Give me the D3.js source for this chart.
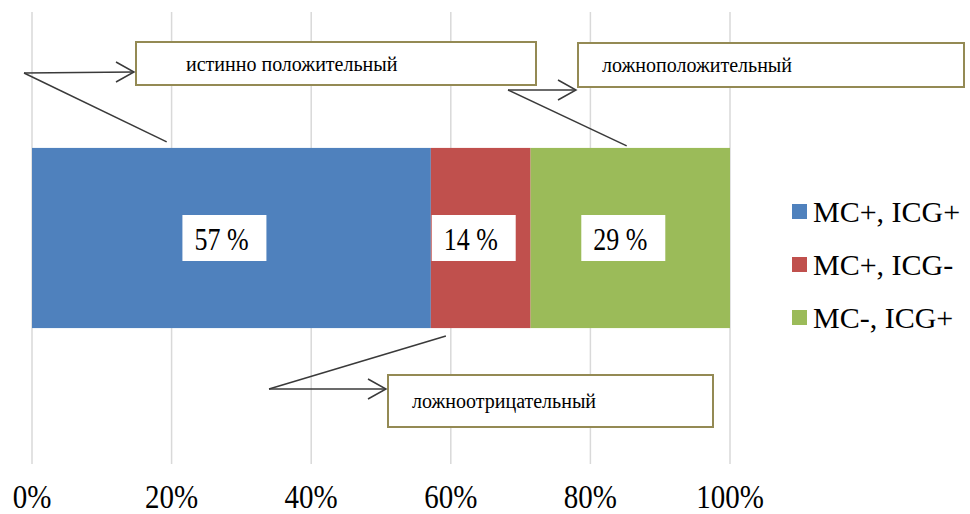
<!DOCTYPE html>
<html>
<head>
<meta charset="utf-8">
<script src="https://cdn.jsdelivr.net/npm/d3@7"></script>
<style>
  body { margin: 0; background: #fff; }
</style>
</head>
<body>
<div id="chart"></div>
<script>
// data
const categories = ['all'];
const seriesNames = ['MC+, ICG+', 'MC+, ICG-', 'MC-, ICG+'];
const seriesValues = [57.14, 14.29, 28.57];
const valueLabels = ['57 %', '14 %', '29 %'];
const seriesColors = ['#4f81bd', '#c0504d', '#9bbb59'];
const tickValues = [0, 20, 40, 60, 80, 100];
const notes = ['истинно положительный', 'ложноположительный', 'ложноотрицательный'];

const width = 970;
const height = 514;
const serif = "'Liberation Serif', 'Times New Roman', Times, serif";

const svg = d3.select('#chart').append('svg')
  .attr('width', width)
  .attr('height', height)
  .attr('font-family', serif);

const x = d3.scaleLinear().domain([0, 100]).range([32, 730]);
const y = d3.scaleBand().domain(categories).range([12, 464]).padding(0.43);

// grid lines
svg.append('g')
  .selectAll('line')
  .data(tickValues)
  .enter().append('line')
    .attr('x1', d => x(d)).attr('x2', d => x(d))
    .attr('y1', 12).attr('y2', 464)
    .style('stroke', '#d9d9d9')
    .style('stroke-width', 1.5);

// tick labels (tall narrow like the original)
svg.append('g')
  .selectAll('text')
  .data(tickValues)
  .enter().append('text')
    .attr('transform', d => `translate(${x(d)},508) scale(1,1.15)`)
    .attr('text-anchor', 'middle')
    .style('font-size', '29px')
    .text(d => d + '%');

// stacked segments
let acc = 0;
const segs = seriesValues.map((v, i) => {
  const s = { name: seriesNames[i], start: acc, end: acc + v, label: valueLabels[i], color: seriesColors[i] };
  acc += v;
  return s;
});

const bars = svg.append('g');
bars.selectAll('rect')
  .data(segs)
  .enter().append('rect')
    .attr('x', d => x(d.start))
    .attr('width', d => x(d.end) - x(d.start))
    .attr('y', y('all'))
    .attr('height', y.bandwidth())
    .attr('fill', d => d.color);

// value label boxes
const cy = y('all') + y.bandwidth() / 2;
const lbl = bars.selectAll('.lbl')
  .data(segs)
  .enter().append('g')
    .attr('class', 'lbl')
    .attr('transform', d => `translate(${(x(d.start) + x(d.end)) / 2 - 7},${cy})`);
lbl.append('rect')
  .attr('x', -42).attr('y', -23)
  .attr('width', 84).attr('height', 46)
  .attr('fill', '#fff');
lbl.append('text')
  .attr('transform', 'translate(-30,12) scale(1,1.18)')
  .style('font-size', '26px')
  .text(d => d.label);

// legend
const legend = svg.append('g')
  .selectAll('g')
  .data(segs)
  .enter().append('g')
    .attr('transform', (d, i) => `translate(792,${212 + i * 53})`);
legend.append('rect')
  .attr('x', 0).attr('y', -8)
  .attr('width', 15).attr('height', 15)
  .attr('fill', d => d.color);
legend.append('text')
  .attr('x', 21).attr('y', 10)
  .style('font-size', '30px')
  .text(d => d.name);

// callouts
const callouts = [
  { text: notes[0], box: [136, 42, 400, 43], apex: [24, 73], tipY: 72, target: [x(19.3), y('all') - 6] },
  { text: notes[1], box: [578, 43, 386, 44], apex: [508, 90], tipY: 90, target: [x(85.2), y('all') - 2] },
  { text: notes[2], box: [388, 375, 325, 52], apex: [269, 389], tipY: 389, target: [x(59.3), y('all') + y.bandwidth() + 8] }
];

const ann = svg.append('g');
callouts.forEach(c => {
  const [bx, by, bw, bh] = c.box;
  ann.append('rect')
    .attr('x', bx).attr('y', by)
    .attr('width', bw).attr('height', bh)
    .attr('fill', '#fff')
    .attr('stroke', '#948a54')
    .attr('stroke-width', 2);
  ann.append('text')
    .attr('x', bx + (c === callouts[0] ? 50 : 24))
    .attr('y', by + bh / 2 + 7)
    .style('font-size', '20px')
    .text(c.text);

  const lineStyle = sel => sel.attr('fill', 'none').attr('stroke', '#3a3a3a').attr('stroke-width', 1.5);
  // horizontal arrow to box
  ann.append('path')
    .attr('d', `M${c.apex[0]},${c.apex[1]} L${bx - 2},${c.tipY}`)
    .call(lineStyle);
  ann.append('path')
    .attr('d', `M${bx - 20},${c.tipY - 10} L${bx - 2},${c.tipY} L${bx - 20},${c.tipY + 10}`)
    .call(lineStyle);
  // leader to bar
  ann.append('path')
    .attr('d', `M${c.apex[0]},${c.apex[1]} L${c.target[0]},${c.target[1]}`)
    .call(lineStyle);
});
</script>
</body>
</html>
